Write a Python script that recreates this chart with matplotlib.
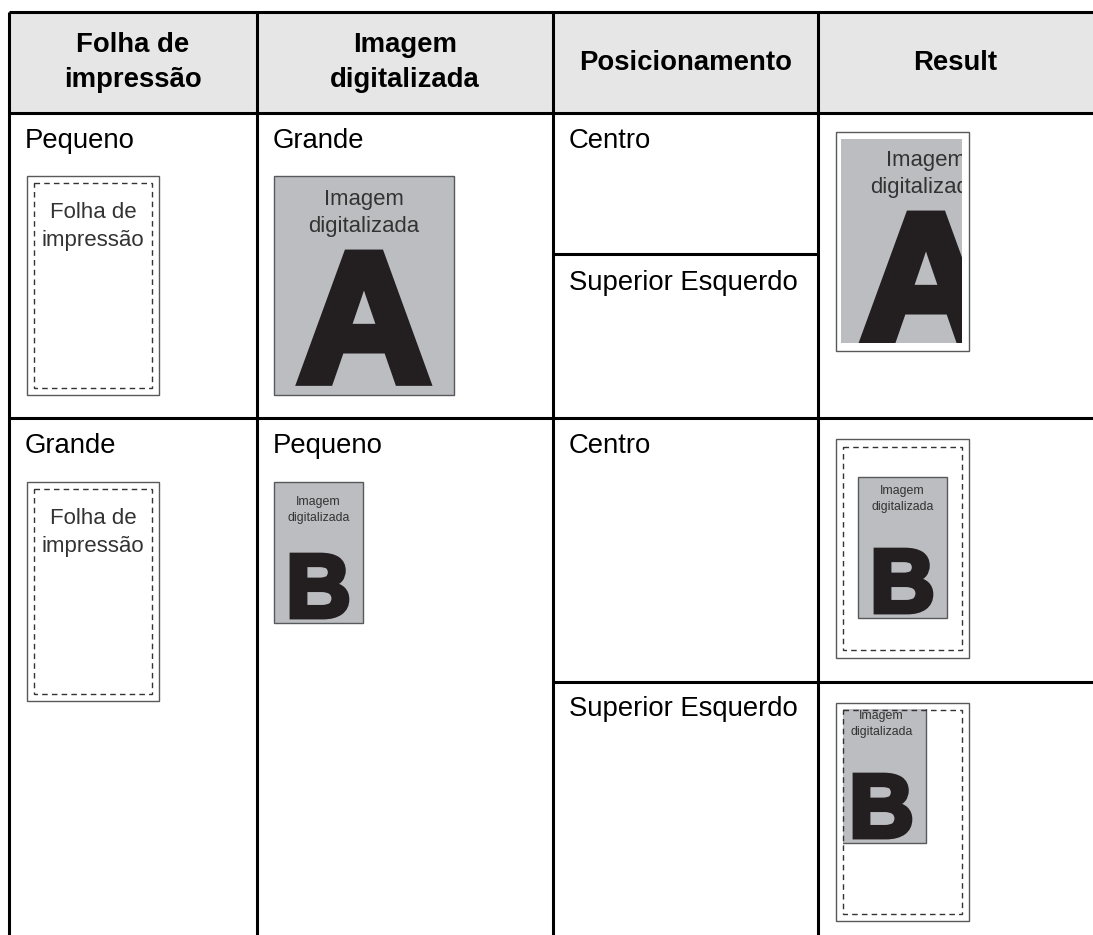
import matplotlib
matplotlib.use("Agg")
import matplotlib.pyplot as plt
from matplotlib.patches import Rectangle
import matplotlib.patheffects as pe

plt.rcParams['font.family'] = ['Liberation Sans', 'DejaVu Sans']

# table content
headers = [['Folha de', 'impressão'], ['Imagem', 'digitalizada'], ['Posicionamento'], ['Result']]
sheet_sizes = ['Pequeno', 'Grande']
scan_sizes = ['Grande', 'Pequeno']
positions = ['Centro', 'Superior Esquerdo']
sheet_label = ['Folha de', 'impressão']
scan_label = ['Imagem', 'digitalizada']
letters = ['A', 'B']

# layout (pixels, y down)
W, H = 1093, 935
col_x = [9, 257, 553, 818, 1093]
head_top, head_bot = 12, 113
row_split = 418

GRAY = '#bcbdc0'
EDGE = '#58595b'
INK = '#231f20'
TXT = '#333333'

fig = plt.figure(figsize=(W / 100, H / 100), dpi=100)
ax = fig.add_axes([0, 0, 1, 1])
ax.set_xlim(0, W)
ax.set_ylim(H, 0)
ax.axis('off')


def px(p):
    # pixel size -> points
    return p * 72 / 100


def sheet(x0, y0, w, h, inset, label=True, dashed=True):
    ax.add_patch(Rectangle((x0, y0), w, h, fc='white', ec=EDGE, lw=1.0, zorder=2))
    if dashed:
        ax.add_patch(Rectangle((x0 + 7, y0 + inset), w - 14, h - 2 * inset, fill=False,
                               ec=TXT, lw=1.0, ls=(0, (4, 3)), zorder=6))
    if label:
        cx = x0 + w / 2
        ax.text(cx, y0 + 42, sheet_label[0], ha='center', va='baseline', color=TXT,
                fontsize=px(22.3), zorder=3)
        ax.text(cx, y0 + 70, sheet_label[1], ha='center', va='baseline', color=TXT,
                fontsize=px(22.3), zorder=3)


def scan(x0, y0, w, h, letter, fs_txt, t1, t2, fs_let, base, stroke, clip=None):
    arts = []
    arts.append(ax.add_patch(Rectangle((x0, y0), w, h, fc=GRAY, ec=EDGE, lw=1.0, zorder=4)))
    cx = x0 + w / 2
    arts.append(ax.text(cx, y0 + t1, scan_label[0], ha='center', va='baseline', color=TXT,
                        fontsize=px(fs_txt), zorder=5))
    arts.append(ax.text(cx, y0 + t2, scan_label[1], ha='center', va='baseline', color=TXT,
                        fontsize=px(fs_txt), zorder=5))
    t = ax.text(cx, y0 + base, letter, ha='center', va='baseline', color=INK,
                fontsize=px(fs_let), fontweight='bold', zorder=5,
                path_effects=[pe.withStroke(linewidth=stroke, foreground=INK,
                                            joinstyle='miter')])
    arts.append(t)
    if clip is not None:
        cp = Rectangle((clip[0], clip[1]), clip[2], clip[3], transform=ax.transData)
        for a in arts:
            a.set_clip_on(True)
            a.set_clip_path(cp)


# header
ax.add_patch(Rectangle((col_x[0], head_top), W - col_x[0], head_bot - head_top,
                       fc='#e6e6e6', ec='none', zorder=0))
for i, lines in enumerate(headers):
    cx = (col_x[i] + col_x[i + 1]) / 2
    bases = [52, 87] if len(lines) == 2 else [70]
    for s, b in zip(lines, bases):
        ax.text(cx, b, s, ha='center', va='baseline', fontsize=px(27.5),
                fontweight='bold', color='black')

# grid lines
lw = 2.2
for y in [head_top, head_bot, row_split]:
    ax.plot([col_x[0], W], [y, y], color='black', lw=lw, solid_capstyle='butt')
for x in col_x[:4]:
    ax.plot([x, x], [head_top, H], color='black', lw=lw, solid_capstyle='butt')
ax.plot([col_x[2], col_x[3]], [254, 254], color='black', lw=lw, solid_capstyle='butt')
ax.plot([col_x[2], W], [682, 682], color='black', lw=lw, solid_capstyle='butt')

# cell text
row_base = [148, 453]
for r in range(2):
    ax.text(25, row_base[r], sheet_sizes[r], fontsize=px(27.5), va='baseline')
    ax.text(273, row_base[r], scan_sizes[r], fontsize=px(27.5), va='baseline')
ax.text(569, 148, positions[0], fontsize=px(27.5), va='baseline')
ax.text(569, 290, positions[1], fontsize=px(27.5), va='baseline')
ax.text(569, 453, positions[0], fontsize=px(27.5), va='baseline')
ax.text(569, 716, positions[1], fontsize=px(27.5), va='baseline')

# column 1: print sheets
sheet(27, 176, 132, 219, 7)
sheet(27, 482, 132, 219, 7)

# column 2: scanned images
big = dict(fs_txt=22.2, t1=29, t2=56, fs_let=184, base=205, stroke=7)
small = dict(fs_txt=12.4, t1=23, t2=39, fs_let=90, base=135, stroke=3.5)
small_res = dict(small, t1=17, t2=33)
scan(274, 176, 180, 219, letters[0], **big)
scan(274, 482, 89, 141, letters[1], **small)

# column 4: results
sheet(836, 132, 133, 219, 7, label=False, dashed=False)
scan(836, 137, 180, 219, letters[0], clip=(841, 139, 121, 204), **big)

sheet(836, 439, 133, 219, 8, label=False)
scan(858, 477, 89, 141, letters[1], **small_res)

sheet(836, 703, 133, 218, 7, label=False)
scan(837, 702, 89, 141, letters[1], clip=(843, 709, 120, 204), **small_res)

fig.savefig('out.png', dpi=100)
